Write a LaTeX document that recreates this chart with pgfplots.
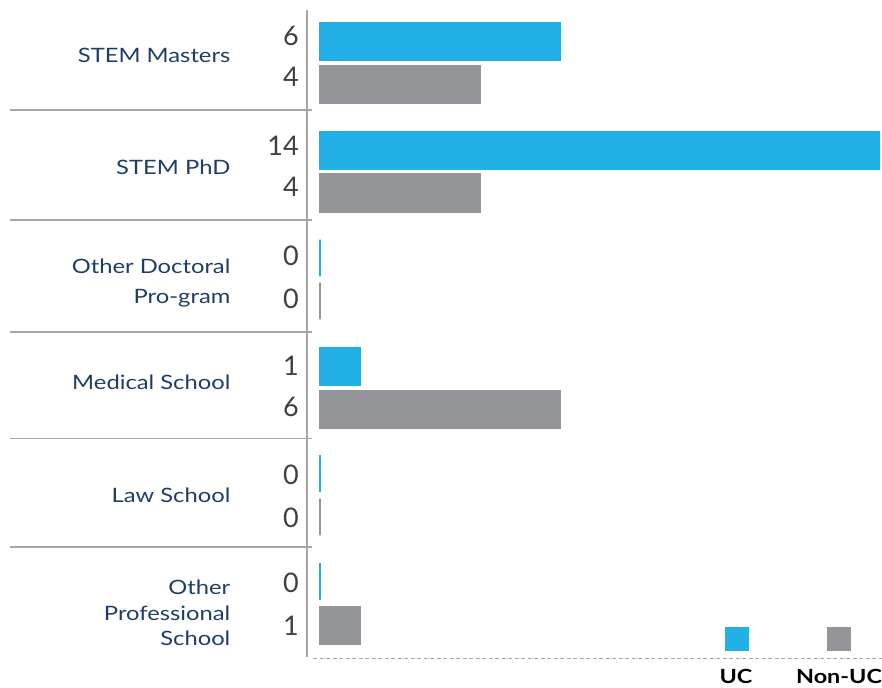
\documentclass[border=0pt]{standalone}
\usepackage{pgfplots}
\pgfplotsset{compat=1.18}
\usepackage{fontspec}
\setmainfont{Lato}
\newfontfamily\widefont{Lato}[FakeStretch=1.2]
\definecolor{ucblue}{HTML}{21B1E6}
\definecolor{nongray}{HTML}{939598}
\definecolor{catnavy}{HTML}{1F3E66}
\definecolor{valgray}{HTML}{404040}
\definecolor{sepgray}{HTML}{A6A6A6}
\newcommand{\catfont}{\widefont\fontsize{19.8bp}{23bp}\selectfont\color{catnavy}}
\newcommand{\valfont}{\fontsize{27bp}{30bp}\selectfont\color{valgray}}
\newcommand{\val}[2]{\node[anchor=base east, inner sep=0pt] at (axis cs:-0.526,#2) {\valfont #1};}
\newcommand{\cat}[2]{\node[anchor=base east, inner sep=0pt] at (axis cs:-2.243,#2) {\catfont #1};}
\newcommand{\sep}[1]{\draw[color=sepgray, line width=1.3bp] (axis cs:-7.769,#1) -- (axis cs:-0.2005,#1);}
\begin{document}
\begin{tikzpicture}
\begin{axis}[
  width=882bp, height=688bp, scale only axis,
  xmin=-8.020, xmax=14.085, ymin=0, ymax=688, y dir=reverse,
  hide axis, clip=false,
]
% UC
\addplot[xbar, bar shift=0pt, bar width=36.8, fill=ucblue, draw=ucblue, line width=2.2bp]
  coordinates {(6,42) (14,150.5) (0,258) (1,366) (0,473.5) (0,581.5)};
% Non-UC
\addplot[xbar, bar shift=0pt, bar width=36.8, fill=nongray, draw=nongray, line width=2.2bp]
  coordinates {(4,85) (4,193) (0,301) (6,409) (0,517) (1,625)};
% axis line and separators
\draw[color=sepgray, line width=1.3bp] (axis cs:-0.326,10) -- (axis cs:-0.326,657);
\sep{110}
\sep{220}
\sep{332}
\sep{438.7}
\sep{547}
\draw[color=sepgray, line width=1bp, dash pattern=on 4bp off 2.5bp] (axis cs:-0.175,658) -- (axis cs:14.085,658);
% value labels
\val{6}{45.7}
\val{4}{87}
\val{14}{156}
\val{4}{197}
\val{0}{265}
\val{0}{308}
\val{1}{375}
\val{6}{416}
\val{0}{484}
\val{0}{527}
\val{0}{592}
\val{1}{635}
% category labels
\cat{STEM Masters}{63}
\cat{STEM PhD}{175}
\cat{Other Doctoral}{273}
\cat{Pro-gram}{303}
\cat{Medical School}{389}
\cat{Law School}{502}
\cat{Other}{594}
\cat{Professional}{620}
\cat{School}{645}
% legend
\fill[ucblue] (axis cs:10.150,627) rectangle (axis cs:10.752,651);
\fill[nongray] (axis cs:12.707,627) rectangle (axis cs:13.308,651);
\node[anchor=base, inner sep=0pt] at (axis cs:10.426,683) {\widefont\fontsize{19.5bp}{23bp}\selectfont\bfseries UC};
\node[anchor=base, inner sep=0pt] at (axis cs:13.008,683) {\widefont\fontsize{19.5bp}{23bp}\selectfont\bfseries Non-UC};
\end{axis}
\pgfresetboundingbox
\path (current axis.south west) rectangle (current axis.north east);
\end{tikzpicture}
\end{document}
